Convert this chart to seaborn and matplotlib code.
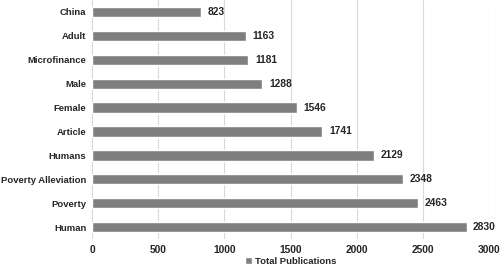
import matplotlib
matplotlib.use("Agg")
import matplotlib.pyplot as plt
import seaborn as sns
import pandas as pd

keywords = ["China", "Adult", "Microfinance", "Male", "Female", "Article",
            "Humans", "Poverty Alleviation", "Poverty", "Human"]
publications = [823, 1163, 1181, 1288, 1546, 1741, 2129, 2348, 2463, 2830]
x_ticks = [0, 500, 1000, 1500, 2000, 2500, 3000]

df = pd.DataFrame({"Keyword": keywords, "Total Publications": publications})

sns.set_theme(style="white")
plt.rcParams["font.family"] = ["Liberation Sans", "DejaVu Sans"]
plt.rcParams["font.weight"] = "bold"

fs = 6.8
fs_num = 7.4
txt = "#262626"

fig = plt.figure(figsize=(5.0, 2.68), dpi=100)
ax = fig.add_axes([0.184, 0.108, 0.794, 0.892])

bar_color = "#7f7f7f"
sns.barplot(data=df, y="Keyword", x="Total Publications", color=bar_color,
            width=0.43, saturation=1, ax=ax, label="Total Publications")

# value labels to the right of each bar
for i, v in enumerate(publications):
    ax.text(v + 50, i, str(v), va="center", ha="left", fontsize=fs_num,
            fontweight="bold", color=txt)

ax.set_xlim(0, 3000)
ax.set_xticks(x_ticks)
ax.set_xticklabels([str(t) for t in x_ticks], fontsize=fs_num, fontweight="bold", color=txt)
ax.tick_params(axis="y", labelsize=fs, length=0, pad=4, labelcolor=txt)
ax.tick_params(axis="x", length=0, pad=4)
for lbl in ax.get_yticklabels():
    lbl.set_fontweight("bold")
ax.set_xlabel("")
ax.set_ylabel("")
ax.grid(axis="x", color="#d9d9d9", linewidth=0.8)
ax.set_axisbelow(True)
for s in ax.spines.values():
    s.set_visible(False)

handles, labels = ax.get_legend_handles_labels()
leg = ax.legend(handles[:1], labels[:1], loc="center", bbox_to_anchor=(0.5, -0.092),
                frameon=False, handlelength=0.7, handleheight=0.7,
                handletextpad=0.3, prop={"weight": "bold", "size": fs})
for t in leg.get_texts():
    t.set_color(txt)

fig.savefig("out.png", dpi=100)
